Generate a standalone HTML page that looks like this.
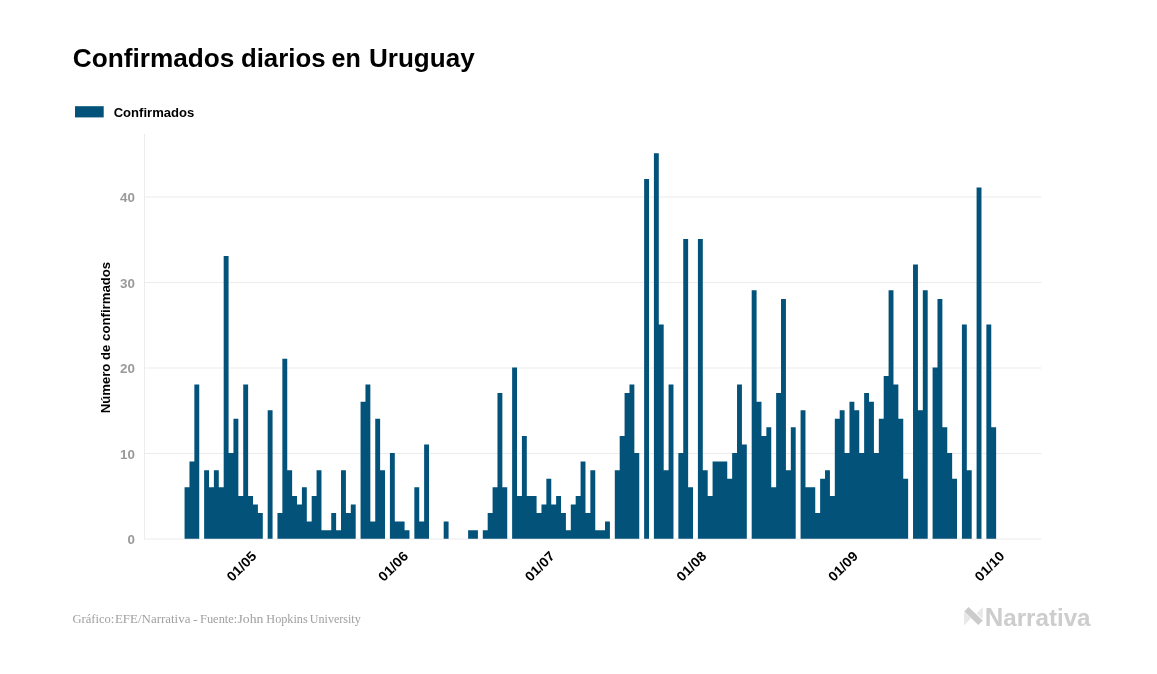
<!DOCTYPE html>
<html lang="es"><head><meta charset="utf-8"><title>Confirmados diarios en Uruguay</title>
<style>
html,body{margin:0;padding:0;background:#fff;}
body{width:1157px;height:674px;overflow:hidden;position:relative;font-family:"Liberation Sans",sans-serif;}
svg{position:absolute;left:0;top:0;display:block}
.title{font:bold 25.2px "Liberation Sans",sans-serif;fill:#000}
.leg{font:bold 13.2px "Liberation Sans",sans-serif;fill:#000}
.foot{font:13.2px "Liberation Serif",serif;fill:#a0a0a0}
.logo{font:bold 24.5px "Liberation Sans",sans-serif;fill:#cdcdcd}
.yt{font:bold 13.5px "Liberation Sans",sans-serif;fill:#000}
.yl{font:bold 13.4px "Liberation Sans",sans-serif;fill:#999}
.xl{font:bold 13.5px "Liberation Sans",sans-serif;fill:#000}
</style></head><body>
<svg width="1157" height="674" viewBox="0 0 1157 674">
<rect width="1157" height="674" fill="#fff"/>
<g><text y="67.0" class="title"><tspan x="72.76" textLength="161.65" lengthAdjust="spacingAndGlyphs">Confirmados</tspan> <tspan x="240.96" textLength="84.56" lengthAdjust="spacingAndGlyphs">diarios</tspan> <tspan x="331.54" textLength="29.29" lengthAdjust="spacingAndGlyphs">en</tspan> <tspan x="369.0" textLength="105.65" lengthAdjust="spacingAndGlyphs">Uruguay</tspan></text></g>
<rect x="75" y="106.2" width="28.7" height="11.2" fill="#02527a"/>
<text y="116.8" class="leg"><tspan x="113.69" textLength="80.57" lengthAdjust="spacingAndGlyphs">Confirmados</tspan></text>
<rect x="145" y="453.00" width="896.3" height="1" fill="#ececec"/><rect x="145" y="367.50" width="896.3" height="1" fill="#ececec"/><rect x="145" y="282.00" width="896.3" height="1" fill="#ececec"/><rect x="145" y="196.50" width="896.3" height="1" fill="#ececec"/>
<rect x="144" y="134" width="1" height="405.5" fill="#ececec"/>
<rect x="144" y="538.5" width="897.3" height="1" fill="#ececec"/>
<path d="M184.57 538.7V487.31H189.46V461.62H194.35V384.53H199.24V538.7zM204.13 538.7V470.18H209.01V487.31H213.90V470.18H218.79V487.31H223.68V256.06H228.57V453.05H233.46V418.79H238.35V495.88H243.24V384.53H248.13V495.88H253.02V504.44H257.90V513.00H262.79V538.7zM267.68 538.7V410.23H272.57V538.7zM277.46 538.7V513.00H282.35V358.84H287.24V470.18H292.13V495.88H297.02V504.44H301.91V487.31H306.80V521.57H311.68V495.88H316.57V470.18H321.46V530.13H326.35V530.13H331.24V513.00H336.13V530.13H341.02V470.18H345.91V513.00H350.80V504.44H355.69V538.7zM360.57 538.7V401.66H365.46V384.53H370.35V521.57H375.24V418.79H380.13V470.18H385.02V538.7zM389.91 538.7V453.05H394.80V521.57H399.69V521.57H404.58V530.13H409.46V538.7zM414.35 538.7V487.31H419.24V521.57H424.13V444.49H429.02V538.7zM443.69 538.7V521.57H448.58V538.7zM468.13 538.7V530.13H473.02V530.13H477.91V538.7zM482.80 538.7V530.13H487.69V513.00H492.58V487.31H497.47V393.10H502.36V487.31H507.24V538.7zM512.13 538.7V367.40H517.02V495.88H521.91V435.92H526.80V495.88H531.69V495.88H536.58V513.00H541.47V504.44H546.36V478.75H551.25V504.44H556.13V495.88H561.02V513.00H565.91V530.13H570.80V504.44H575.69V495.88H580.58V461.62H585.47V513.00H590.36V470.18H595.25V530.13H600.13V530.13H605.02V521.57H609.91V538.7zM614.80 538.7V470.18H619.69V435.92H624.58V393.10H629.47V384.53H634.36V453.05H639.25V538.7zM644.14 538.7V178.97H649.03V538.7zM653.91 538.7V153.28H658.80V324.58H663.69V470.18H668.58V384.53H673.47V538.7zM678.36 538.7V453.05H683.25V238.93H688.14V487.31H693.03V538.7zM697.91 538.7V238.93H702.80V470.18H707.69V495.88H712.58V461.62H717.47V461.62H722.36V461.62H727.25V478.75H732.14V453.05H737.03V384.53H741.92V444.49H746.81V538.7zM751.69 538.7V290.32H756.58V401.66H761.47V435.92H766.36V427.36H771.25V487.31H776.14V393.10H781.03V298.88H785.92V470.18H790.81V427.36H795.69V538.7zM800.58 538.7V410.23H805.47V487.31H810.36V487.31H815.25V513.00H820.14V478.75H825.03V470.18H829.92V495.88H834.81V418.79H839.70V410.23H844.59V453.05H849.47V401.66H854.36V410.23H859.25V453.05H864.14V393.10H869.03V401.66H873.92V453.05H878.81V418.79H883.70V375.97H888.59V290.32H893.48V384.53H898.36V418.79H903.25V478.75H908.14V538.7zM913.03 538.7V264.62H917.92V410.23H922.81V290.32H927.70V538.7zM932.59 538.7V367.40H937.48V298.88H942.37V427.36H947.25V453.05H952.14V478.75H957.03V538.7zM961.92 538.7V324.58H966.81V470.18H971.70V538.7zM976.59 538.7V187.54H981.48V538.7zM986.37 538.7V324.58H991.26V427.36H996.14V538.7z" fill="#02527a"/>
<text x="135" y="544.00" text-anchor="end" class="yl">0</text><text x="135" y="458.50" text-anchor="end" class="yl">10</text><text x="135" y="373.00" text-anchor="end" class="yl">20</text><text x="135" y="287.50" text-anchor="end" class="yl">30</text><text x="135" y="202.00" text-anchor="end" class="yl">40</text>
<text transform="translate(109.5 337.6) rotate(-90)" text-anchor="middle" class="yt" textLength="151.5" lengthAdjust="spacingAndGlyphs">Número de confirmados</text>
<text transform="translate(257.45 557) rotate(-45)" text-anchor="end" class="xl" textLength="35.6" lengthAdjust="spacingAndGlyphs">01/05</text><text transform="translate(409.01 557) rotate(-45)" text-anchor="end" class="xl" textLength="35.6" lengthAdjust="spacingAndGlyphs">01/06</text><text transform="translate(555.68 557) rotate(-45)" text-anchor="end" class="xl" textLength="35.6" lengthAdjust="spacingAndGlyphs">01/07</text><text transform="translate(707.24 557) rotate(-45)" text-anchor="end" class="xl" textLength="35.6" lengthAdjust="spacingAndGlyphs">01/08</text><text transform="translate(858.80 557) rotate(-45)" text-anchor="end" class="xl" textLength="35.6" lengthAdjust="spacingAndGlyphs">01/09</text><text transform="translate(1005.47 557) rotate(-45)" text-anchor="end" class="xl" textLength="35.6" lengthAdjust="spacingAndGlyphs">01/10</text>
<g><text y="622.9" class="foot"><tspan x="72.45" textLength="41.9" lengthAdjust="spacingAndGlyphs">Gráfico:</tspan> <tspan x="114.96" textLength="75.44" lengthAdjust="spacingAndGlyphs">EFE/Narrativa</tspan> <tspan x="192.97" textLength="4.66" lengthAdjust="spacingAndGlyphs">-</tspan> <tspan x="200.01" textLength="37.27" lengthAdjust="spacingAndGlyphs">Fuente:</tspan> <tspan x="237.53" textLength="25.86" lengthAdjust="spacingAndGlyphs">John</tspan> <tspan x="266.32" textLength="41.41" lengthAdjust="spacingAndGlyphs">Hopkins</tspan> <tspan x="309.87" textLength="50.9" lengthAdjust="spacingAndGlyphs">University</tspan></text></g>
<g>
<polygon points="968.5,607.1 964.3,611.4 978.3,624.9 982.8,620.4" fill="#cbcbcb"/>
<polygon points="964,611.9 964,625.4 971.1,618.3" fill="#e8e8e8"/>
<polygon points="982.8,606.9 976.6,613.3 982.8,619" fill="#e8e8e8"/>
</g>
<text y="625.8" class="logo"><tspan x="984.71" textLength="105.84" lengthAdjust="spacingAndGlyphs"><tspan font-size="26">N</tspan>arrativa</tspan></text>
</svg>
</body></html>
